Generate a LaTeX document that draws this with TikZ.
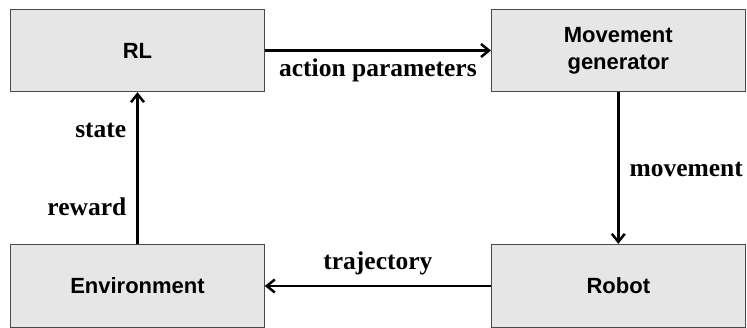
\documentclass[tikz,border=0pt]{standalone}
\usepackage{fontspec}
\setmainfont{Liberation Serif}
\setsansfont{Liberation Sans}
\usetikzlibrary{arrows.meta}
\definecolor{boxfill}{HTML}{E6E6E6}
\definecolor{boxline}{HTML}{4A4A4A}
\tikzset{
  blockbox/.style={draw=boxline, fill=boxfill, line width=1pt, minimum width=253.6pt,
    inner sep=0pt, align=center, font=\sffamily\bfseries\fontsize{22}{27}\selectfont},
  flow/.style={line width=2.5pt, -{Straight Barb[length=8pt,width=13pt]}},
  lbl/.style={inner sep=0pt, font=\bfseries\fontsize{25.5}{30}\selectfont}
}
\begin{document}
\begin{tikzpicture}[x=1pt, y=-1pt]
\useasboundingbox (0,0) rectangle (747,327);
\clip (0,0) rectangle (747,327);
\node[blockbox, minimum height=82.4pt] (rl) at (137.5,50.5) {RL};
\node[blockbox, minimum height=82.4pt] (mg) at (618.3,50.5) {Movement\\generator};
\node[blockbox, minimum height=83.4pt] (env) at (137.5,286) {Environment};
\node[blockbox, minimum height=83.4pt] (rob) at (618.3,286) {Robot};
\draw[flow] (rl) -- node[lbl, anchor=base, yshift=-26pt] {action parameters} (mg);
\draw[flow] (mg) -- node[lbl, anchor=base west, xshift=10pt, yshift=-8pt] {movement} (rob);
\draw[flow] (rob) -- node[lbl, anchor=base, yshift=17pt] {trajectory} (env);
\draw[flow] (env) -- node[lbl, pos=0.704, anchor=base east, xshift=-10pt] {state}
  node[lbl, pos=0.184, anchor=base east, xshift=-10pt] {reward} (rl);
\end{tikzpicture}
\end{document}
